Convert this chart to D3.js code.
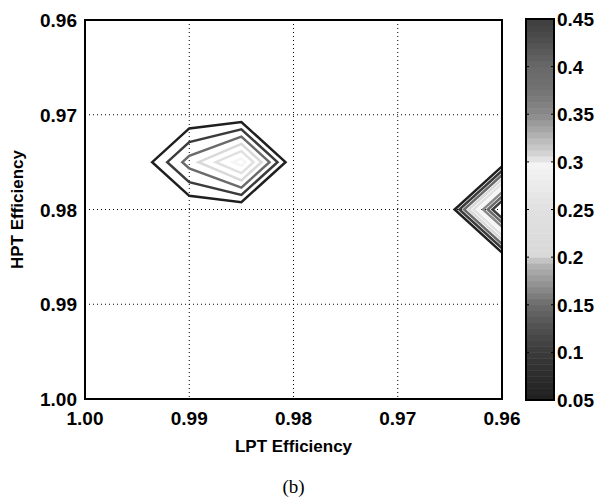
<!DOCTYPE html>
<html>
<head>
<meta charset="utf-8">
<script src="https://cdn.jsdelivr.net/npm/d3@7"></script>
<style>
body { margin: 0; background: #fff; }
text { font-family: "Liberation Sans", Arial, sans-serif; font-weight: bold; fill: #000; }
</style>
</head>
<body>
<svg width="598" height="501"></svg>
<script>
// grid nodes (LPT across, HPT down)
const lptGrid = [1.00, 0.995, 0.99, 0.985, 0.98, 0.975, 0.97, 0.965, 0.96];
const hptGrid = [0.96, 0.965, 0.97, 0.975, 0.98, 0.985, 0.99, 0.995, 1.00];
// one row per HPT value
const gridValues = [
  [0, 0, 0,     0,     0, 0, 0, 0, 0],
  [0, 0, 0,     0,     0, 0, 0, 0, 0],
  [0, 0, 0,     0,     0, 0, 0, 0, 0],
  [0, 0, 0.173, 0.325, 0, 0, 0, 0, 0],
  [0, 0, 0,     0,     0, 0, 0, 0, 0.55],
  [0, 0, 0,     0,     0, 0, 0, 0, 0],
  [0, 0, 0,     0,     0, 0, 0, 0, 0],
  [0, 0, 0,     0,     0, 0, 0, 0, 0],
  [0, 0, 0,     0,     0, 0, 0, 0, 0]
];
const levels = [0.05, 0.10, 0.15, 0.20, 0.25, 0.30, 0.35, 0.40, 0.45];

const xTicks = [1.00, 0.99, 0.98, 0.97, 0.96];
const yTicks = [0.96, 0.97, 0.98, 0.99, 1.00];
const cbTicks = [0.05, 0.10, 0.15, 0.20, 0.25, 0.30, 0.35, 0.40, 0.45];
const cbLabels = ["0.05", "0.1", "0.15", "0.2", "0.25", "0.3", "0.35", "0.4", "0.45"];

// grey colormap
const cmapStops = [0.05, 0.10, 0.125, 0.15, 0.165, 0.18, 0.195, 0.20, 0.25, 0.28, 0.30, 0.302, 0.31, 0.33, 0.35, 0.375, 0.40, 0.43, 0.45];
const cmapGrays = [0.12, 0.23, 0.31, 0.42, 0.53, 0.63, 0.72, 0.85, 0.88, 0.93, 0.96, 0.90, 0.82, 0.68, 0.54, 0.45, 0.41, 0.30, 0.24];

const svg = d3.select("svg");
const pL = 85, pR = 502, pT = 20, pB = 399;

const x = d3.scaleLinear().domain([1.00, 0.96]).range([pL, pR]),
    y = d3.scaleLinear().domain([0.96, 1.00]).range([pT, pB]);

const color = d3.scaleLinear().domain(cmapStops)
    .range(cmapGrays.map(g => d3.rgb(g * 255, g * 255, g * 255)));

// grid cell coords -> data values
const gx = d3.scaleLinear().domain([0.5, lptGrid.length - 0.5]).range([lptGrid[0], lptGrid[lptGrid.length - 1]]),
    gy = d3.scaleLinear().domain([0.5, hptGrid.length - 0.5]).range([hptGrid[0], hptGrid[hptGrid.length - 1]]);

svg.append("defs").append("clipPath").attr("id", "plot")
  .append("rect").attr("x", pL).attr("y", pT)
  .attr("width", pR - pL).attr("height", pB - pT);

// dotted grid
svg.append("g").selectAll("line")
  .data(xTicks.slice(1, -1))
  .enter().append("line")
    .attr("x1", d => x(d)).attr("x2", d => x(d))
    .attr("y1", pT).attr("y2", pB)
    .attr("stroke", "#000").attr("stroke-width", 1)
    .attr("stroke-dasharray", "1,3");
svg.append("g").selectAll("line")
  .data(yTicks.slice(1, -1))
  .enter().append("line")
    .attr("y1", d => y(d)).attr("y2", d => y(d))
    .attr("x1", pL).attr("x2", pR)
    .attr("stroke", "#000").attr("stroke-width", 1)
    .attr("stroke-dasharray", "1,3");

// contours
const contours = d3.contours()
    .size([lptGrid.length, hptGrid.length])
    .thresholds(levels)(gridValues.flat());

const proj = d3.geoTransform({
  point: function(px, py) { this.stream.point(x(gx(px)), y(gy(py))); }
});
const path = d3.geoPath(proj);

svg.append("g").attr("clip-path", "url(#plot)")
  .selectAll("path")
  .data(contours)
  .enter().append("path")
    .attr("d", path)
    .attr("fill", "none")
    .attr("stroke", d => color(d.value))
    .attr("stroke-width", 2.5)
    .attr("stroke-linejoin", "miter");

// frame
svg.append("rect")
  .attr("x", pL).attr("y", pT)
  .attr("width", pR - pL).attr("height", pB - pT)
  .attr("fill", "none").attr("stroke", "#000").attr("stroke-width", 2);

// tick labels
svg.append("g").selectAll("text")
  .data(xTicks)
  .enter().append("text")
    .attr("x", d => x(d)).attr("y", 425)
    .attr("text-anchor", "middle")
    .style("font-size", "19px")
    .text(d => d3.format(".2f")(d));
svg.append("g").selectAll("text")
  .data(yTicks)
  .enter().append("text")
    .attr("x", 77).attr("y", d => y(d) + 7)
    .attr("text-anchor", "end")
    .style("font-size", "19px")
    .text(d => d3.format(".2f")(d));

svg.append("text")
  .attr("x", (pL + pR) / 2).attr("y", 452)
  .attr("text-anchor", "middle").style("font-size", "17px")
  .text("LPT Efficiency");
svg.append("text")
  .attr("transform", "translate(23," + ((pT + pB) / 2) + ") rotate(-90)")
  .attr("text-anchor", "middle").style("font-size", "17px")
  .text("HPT Efficiency");

svg.append("text")
  .attr("x", (pL + pR) / 2).attr("y", 493)
  .attr("text-anchor", "middle")
  .style("font-family", "'Liberation Serif', 'Times New Roman', serif")
  .style("font-weight", "normal").style("font-size", "19px")
  .text("(b)");

// colour bar
const cbLeft = 526, cbRight = 554;
const cb = d3.scaleLinear().domain([0.05, 0.45]).range([400, 19]);
const nBands = 64;
const bandW = (0.45 - 0.05) / nBands;
svg.append("g").selectAll("rect")
  .data(d3.range(nBands))
  .enter().append("rect")
    .attr("x", cbLeft).attr("width", cbRight - cbLeft)
    .attr("y", i => cb(0.05 + (i + 1) * bandW))
    .attr("height", i => cb(0.05 + i * bandW) - cb(0.05 + (i + 1) * bandW) + 0.5)
    .attr("fill", i => color(0.05 + (i + 0.5) * bandW));

const cbt = svg.append("g");
cbt.selectAll(".tl").data(cbTicks).enter().append("line")
  .attr("x1", cbLeft).attr("x2", cbLeft + 3)
  .attr("y1", d => cb(d)).attr("y2", d => cb(d))
  .attr("stroke", "#000").attr("stroke-width", 1);
cbt.selectAll(".tr").data(cbTicks).enter().append("line")
  .attr("x1", cbRight - 3).attr("x2", cbRight)
  .attr("y1", d => cb(d)).attr("y2", d => cb(d))
  .attr("stroke", "#000").attr("stroke-width", 1);
svg.append("rect")
  .attr("x", cbLeft).attr("y", cb(0.45))
  .attr("width", cbRight - cbLeft).attr("height", cb(0.05) - cb(0.45))
  .attr("fill", "none").attr("stroke", "#000").attr("stroke-width", 2);

svg.append("g").selectAll("text")
  .data(cbTicks)
  .enter().append("text")
    .attr("x", 557).attr("y", d => cb(d) + 7)
    .style("font-size", "19px")
    .text((d, i) => cbLabels[i]);
</script>
</body>
</html>
